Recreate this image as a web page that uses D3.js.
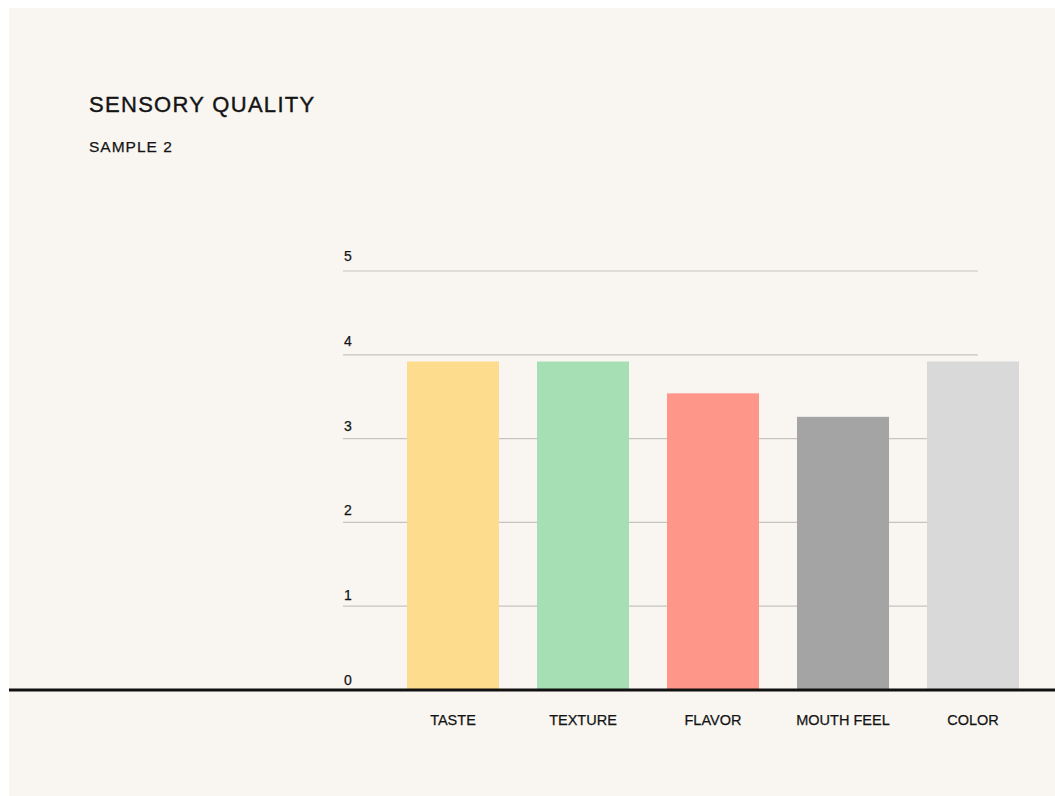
<!DOCTYPE html>
<html>
<head>
<meta charset="utf-8">
<script src="https://cdn.jsdelivr.net/npm/d3@7"></script>
<style>
  html, body { margin: 0; padding: 0; background: #ffffff; }
  svg { display: block; }
  text { font-family: "Liberation Sans", Arial, sans-serif; fill: #141414; stroke: #141414; stroke-width: 0.25px; }
</style>
</head>
<body>
<svg id="chart" width="1055" height="796"></svg>
<script>
// Sensory scores for sample 2
const categories = ["TASTE", "TEXTURE", "FLAVOR", "MOUTH FEEL", "COLOR"];
const scores = [3.92, 3.92, 3.54, 3.26, 3.92];
const barColors = ["#fddc8e", "#a7dfb4", "#fe9689", "#a4a4a4", "#d9d9d9"];
const yTicks = [0, 1, 2, 3, 4, 5];
const title = "SENSORY QUALITY";
const subtitle = "SAMPLE 2";

const svg = d3.select("#chart");
const W = 1055, H = 796;

// panel background
svg.append("rect")
  .attr("x", 9).attr("y", 8)
  .attr("width", W - 9).attr("height", H - 8)
  .attr("fill", "#f9f6f2");

const y = d3.scaleLinear().domain([0, 5]).range([690, 271]);
const yLabel = d3.scaleLinear().domain([0, 5]).range([685, 261]);
const x = d3.scaleBand()
  .domain(categories)
  .range([407, 1019])
  .paddingInner(0.2923)
  .paddingOuter(0);

const gridLeft = 343, gridRight = 978;

// horizontal gridlines
svg.append("g").selectAll("line")
  .data(yTicks.filter(d => d > 0))
  .join("line")
  .attr("x1", gridLeft).attr("x2", gridRight)
  .attr("y1", d => y(d)).attr("y2", d => y(d))
  .attr("stroke", "#c6c4c0")
  .attr("stroke-width", 1.2);

// tick labels above each gridline
svg.append("g").selectAll("text")
  .data(yTicks)
  .join("text")
  .attr("x", gridLeft + 1)
  .attr("y", d => yLabel(d))
  .attr("font-size", 14)
  .text(d => d);

// bars
svg.append("g").selectAll("rect")
  .data(categories)
  .join("rect")
  .attr("x", d => x(d))
  .attr("width", x.bandwidth())
  .attr("y", (d, i) => y(scores[i]))
  .attr("height", (d, i) => y(0) - y(scores[i]))
  .attr("fill", (d, i) => barColors[i]);

// baseline
svg.append("line")
  .attr("x1", 9).attr("x2", W)
  .attr("y1", y(0)).attr("y2", y(0))
  .attr("stroke", "#111111")
  .attr("stroke-width", 3);

// category labels
svg.append("g").selectAll("text")
  .data(categories)
  .join("text")
  .attr("x", d => x(d) + x.bandwidth() / 2)
  .attr("y", 725)
  .attr("text-anchor", "middle")
  .attr("font-size", 14.5)
  .text(d => d);

// headings
svg.append("text")
  .attr("x", 89).attr("y", 112)
  .attr("font-size", 22)
  .attr("letter-spacing", 1.3)
  .style("stroke-width", "0.4px")
  .text(title);

svg.append("text")
  .attr("x", 89).attr("y", 152)
  .attr("font-size", 15.5)
  .attr("letter-spacing", 1)
  .text(subtitle);
</script>
</body>
</html>
